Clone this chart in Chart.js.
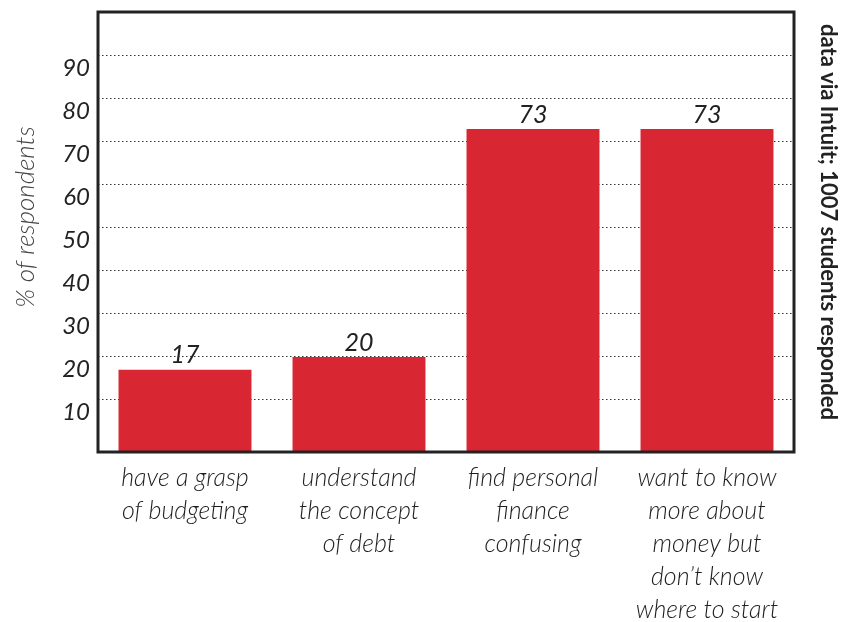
<!DOCTYPE html>
<html>
<head>
<meta charset="utf-8">
<script src="https://cdn.jsdelivr.net/npm/chart.js@4.4.1/dist/chart.umd.min.js"></script>
<style>
  html, body { margin: 0; padding: 0; background: #fff; }
  #wrap { width: 841px; height: 622px; position: relative; }
</style>
</head>
<body>
<div id="wrap"><canvas id="chart"></canvas></div>
<script>
const categories = [
  ["have a grasp", "of budgeting"],
  ["understand", "the concept", "of debt"],
  ["find personal", "finance", "confusing"],
  ["want to know", "more about", "money but", "don\u2019t know", "where to start"]
];
const values = [17, 20, 73, 73];
const yTickValues = [10, 20, 30, 40, 50, 60, 70, 80, 90];
const yMin = -2.1;
const yMax = 100.2;
const yTitle = "% of respondents";
const sourceNote = "data via Intuit; 1007 students responded";

const FONT = "Lato, 'Open Sans', sans-serif";
const barRed = "#d92633";

// frame, value labels and the two side texts
const decorations = {
  id: "decorations",
  afterDatasetsDraw(chart) {
    const { ctx } = chart;
    ctx.save();
    ctx.fillStyle = "#222";
    ctx.font = "italic 25px " + FONT;
    ctx.textAlign = "center";
    ctx.textBaseline = "bottom";
    chart.getDatasetMeta(0).data.forEach((bar, i) => {
      ctx.fillText(String(values[i]), bar.x, bar.y - 2);
    });
    ctx.restore();
  },
  afterDraw(chart) {
    const { ctx, chartArea: a } = chart;
    ctx.save();
    ctx.strokeStyle = "#222";
    ctx.lineWidth = 3;
    ctx.strokeRect(a.left, a.top, a.right - a.left, a.bottom - a.top);

    ctx.fillStyle = "#444";
    ctx.font = "italic 300 26px " + FONT;
    ctx.textAlign = "center";
    ctx.textBaseline = "middle";
    ctx.translate(26, 217);
    ctx.rotate(-Math.PI / 2);
    ctx.fillText(yTitle, 0, 0);
    ctx.restore();

    ctx.save();
    ctx.fillStyle = "#222";
    ctx.font = "bold 22px " + FONT;
    ctx.textAlign = "center";
    ctx.textBaseline = "middle";
    ctx.translate(828, 222);
    ctx.rotate(Math.PI / 2);
    ctx.fillText(sourceNote, 0, 0);
    ctx.restore();
  }
};

new Chart(document.getElementById("chart"), {
  type: "bar",
  data: {
    labels: categories,
    datasets: [{
      data: values,
      backgroundColor: barRed,
      borderWidth: 0,
      base: yMin,
      barPercentage: 0.764,
      categoryPercentage: 1
    }]
  },
  options: {
    responsive: true,
    maintainAspectRatio: false,
    animation: false,
    devicePixelRatio: 1,
    layout: { padding: { top: 12, right: 47, left: 0, bottom: 0 } },
    plugins: {
      legend: { display: false },
      tooltip: { enabled: false }
    },
    scales: {
      x: {
        grid: { display: false, drawTicks: false },
        border: { display: false },
        ticks: {
          color: "#1e1e1e",
          font: { family: FONT, size: 25, style: "italic", weight: 300, lineHeight: 1.32 },
          padding: 9,
          maxRotation: 0,
          autoSkip: false
        },
        afterFit(scale) {
          scale.height = 170;
          scale.paddingLeft = 0;
          scale.paddingRight = 0;
        }
      },
      y: {
        min: yMin,
        max: yMax,
        afterBuildTicks(scale) {
          scale.ticks = yTickValues.map(v => ({ value: v }));
        },
        afterFit(scale) {
          scale.width = 98;
          scale.paddingTop = 0;
          scale.paddingBottom = 0;
        },
        grid: {
          color: "#333",
          lineWidth: 1,
          drawTicks: false
        },
        border: { display: false, dash: [1.5, 2.5] },
        ticks: {
          color: "#222",
          font: { family: FONT, size: 24, style: "italic" },
          padding: 8,
          labelOffset: 12
        }
      }
    }
  },
  plugins: [decorations]
});
</script>
</body>
</html>
